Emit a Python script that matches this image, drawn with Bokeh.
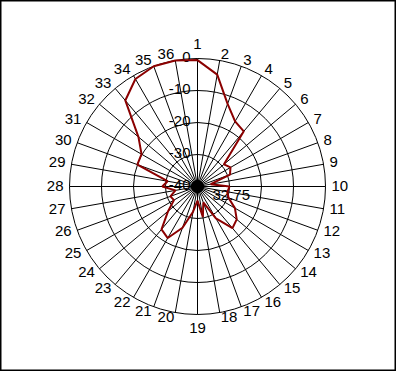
import numpy as np
from bokeh.plotting import figure
from bokeh.models import Range1d
from bokeh.core.properties import value
from bokeh.embed import file_html
from bokeh.resources import INLINE

# ---- data ----
categories = [str(i) for i in range(1, 37)]
values = [-0.5, -4.5, -12.5, -16.5, -17.5, -29.2, -28.1, -29.2, -35.8, -30.0,
          -30.5, -29.7, -26.5, -24.0, -23.0, -28.5, -34.7, -30.3, -35.6, -32.0,
          -26.3, -21.4, -22.5, -28.0, -31.5, -31.0, -33.0, -29.0, -30.5, -20.0,
          -19.8, -15.9, -4.9, -1.2, 0.0, 0.0]
radial_ticks = [0, -10, -20, -30, -40]
radial_labels = ["0", "-10", "-20", "-30", "-40"]
r_min, r_max = -40, 0
center_note = "32.75"

# ---- layout ----
W, H = 396, 371
CX, CY = 197, 186       # pixel centre
R = 128                 # outer ring radius in px
LR = 134                # label anchor radius
FONT = value("Liberation Sans")
FS = "15px"

def rad(v):
    return (np.asarray(v, dtype=float) - r_min) / (r_max - r_min) * R

n = len(categories)
deg = np.arange(n) * 360.0 / n
ang = np.deg2rad(deg)  # clockwise from top

p = figure(width=W, height=H,
           x_range=Range1d(-CX, W - CX), y_range=Range1d(-(H - CY), CY),
           x_axis_type=None, y_axis_type=None,
           toolbar_location=None, output_backend="svg", min_border=0)
p.grid.visible = False
p.outline_line_color = "black"
p.outline_line_width = 2
p.background_fill_color = "white"
p.border_fill_color = "white"

# rings
ring_r = rad(radial_ticks)
for rr in ring_r:
    if rr > 0:
        p.circle(x=0, y=0, radius=rr, fill_color=None, line_color="black", line_width=1)

# spokes
xs = [[0, R * np.sin(a)] for a in ang]
ys = [[0, R * np.cos(a)] for a in ang]
p.multi_line(xs=xs, ys=ys, line_color="black", line_width=1)
p.circle(x=0, y=0, radius=6, fill_color="black", line_color="black")

# category labels, anchored on a circle just outside the plot
lx = LR * np.sin(ang)
ly = LR * np.cos(ang)
groups = {
    "top": (deg == 0, "center", "bottom", 0, 4),
    "bottom": (deg == 180, "center", "top", 0, -2),
    "right": ((deg > 0) & (deg < 180), "left", "middle", 0, 1),
    "left": (deg > 180, "right", "middle", 0, 1),
}
for key, (mask, al, bl, dx, dy) in groups.items():
    idx = np.where(mask)[0]
    p.text(x=list(lx[idx] + dx), y=list(ly[idx] + dy),
           text=[categories[i] for i in idx],
           text_font=FONT, text_font_size=FS, text_color="black",
           text_align=al, text_baseline=bl)

# radial tick labels
p.text(x=[-7] * len(radial_labels), y=list(ring_r + 2), text=radial_labels,
       text_font=FONT, text_font_size=FS, text_color="black",
       text_align="right", text_baseline="middle")

# note near centre
p.text(x=[15], y=[-8], text=[center_note], text_font=FONT, text_font_size=FS,
       text_color="black", text_align="left", text_baseline="middle")

# data polygon
rv = rad(values)
px = list(rv * np.sin(ang)) + [rv[0] * np.sin(ang[0])]
py = list(rv * np.cos(ang)) + [rv[0] * np.cos(ang[0])]
p.line(px, py, line_color="#8B0000", line_width=2)

open("out.html", "w").write(file_html(p, INLINE))
